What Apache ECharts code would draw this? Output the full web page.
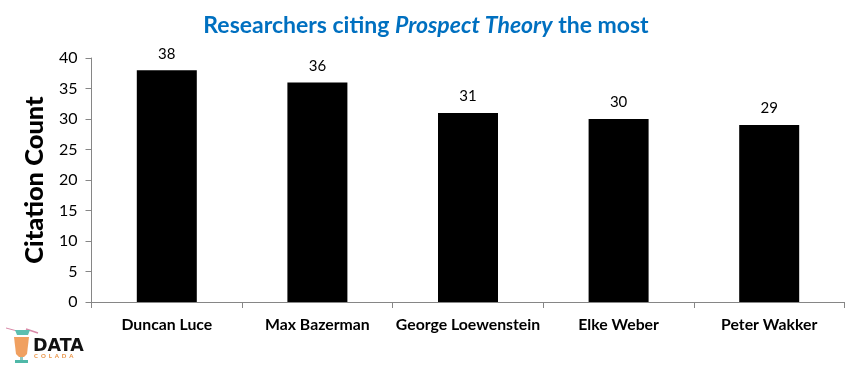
<!DOCTYPE html>
<html><head><meta charset="utf-8">
<style>html,body{margin:0;padding:0;background:#fff}#c{width:847px;height:367px}</style>
<script src="https://cdn.jsdelivr.net/npm/echarts@6/dist/echarts.min.js"></script>
</head><body><div id="c"></div>
<script>
const categories = ["Duncan Luce","Max Bazerman","George Loewenstein","Elke Weber","Peter Wakker"];
const citations = [38,36,31,30,29];
const chart = echarts.init(document.getElementById('c'),null,{renderer:'canvas'});
const F='Lato';
chart.setOption({
  animation:false,
  backgroundColor:'#fff',
  title:{left:421,top:9,textAlign:'center',
    text:'{b|Researchers citing }{i|Prospect Theory}{b| the most}',
    textStyle:{rich:{
      b:{fontFamily:F,fontSize:23,fontWeight:'bold',color:'#0070c0'},
      i:{fontFamily:F,fontSize:23,fontWeight:'bold',fontStyle:'italic',color:'#0070c0'}}}},
  grid:{left:91.5,right:2.5,top:58,bottom:65,containLabel:false},
  xAxis:{type:'category',data:categories,
    axisLine:{lineStyle:{color:'#868686',width:1}},
    axisTick:{show:true,alignWithLabel:false,length:6,lineStyle:{color:'#868686'}},
    axisLabel:{interval:0,margin:15,fontFamily:F,fontSize:15.8,fontWeight:'bold',color:'#000'}},
  yAxis:{type:'value',min:0,max:40,interval:5,
    name:'Citation Count',nameLocation:'middle',nameGap:42,
    nameTextStyle:{fontFamily:F,fontSize:25.5,fontWeight:900,color:'#000'},
    axisLine:{show:true,lineStyle:{color:'#868686',width:1}},
    axisTick:{show:true,length:6,lineStyle:{color:'#868686'}},
    splitLine:{show:false},
    axisLabel:{margin:14,fontFamily:F,fontSize:16,color:'#000'}},
  series:[{type:'bar',data:citations,barWidth:60,
    itemStyle:{color:'#000'},
    label:{show:true,position:'top',distance:9,fontFamily:F,fontSize:15,color:'#000'}}],
  graphic:[
    {type:'line',silent:true,shape:{x1:6,y1:328,x2:21,y2:332},style:{stroke:'#d98aa8',lineWidth:1}},
    {type:'line',silent:true,shape:{x1:26,y1:329,x2:38,y2:333},style:{stroke:'#d98aa8',lineWidth:1.5}},
    {type:'polygon',silent:true,shape:{points:[[15,330],[30,330],[28,335],[17,335]]},style:{fill:'#5cbfb0'}},
    {type:'polygon',silent:true,shape:{points:[[14,337],[29,337],[27,354],[24,357],[19,357],[16,354]]},style:{fill:'#f0a060'}},
    {type:'rect',silent:true,shape:{x:20,y:357,width:3,height:4},style:{fill:'#8fc8c0'}},
    {type:'rect',silent:true,shape:{x:15,y:360,width:13,height:3},style:{fill:'#4fb8a8'}},
    {type:'text',silent:true,style:{x:33,y:337,text:'DATA',fontFamily:'DejaVu Sans',fontWeight:'bold',fontSize:17.5,fill:'#111'}},
    {type:'text',silent:true,style:{x:34,y:353,text:'C  O  L  A  D  A',fontFamily:F,fontWeight:'bold',fontSize:6,fill:'#e89040'}}
  ]
});
</script></body></html>
